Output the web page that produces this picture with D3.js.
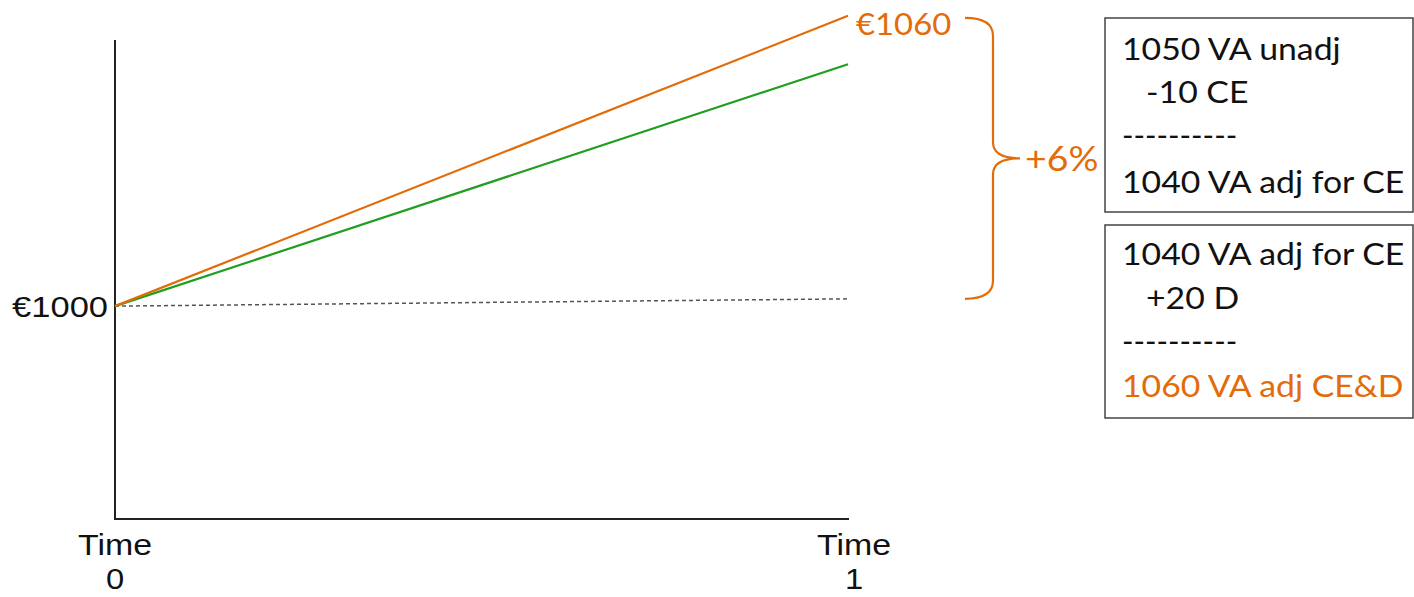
<!DOCTYPE html>
<html>
<head>
<meta charset="utf-8">
<script src="https://cdn.jsdelivr.net/npm/d3@7"></script>
<style>
  html, body { margin: 0; padding: 0; background: #fff; }
  svg { display: block; }
</style>
</head>
<body>
<svg id="chart" width="1414" height="597"></svg>
<script>
// Time points on the horizontal axis
const times = [0, 1];
const timeLabels = ["Time", "Time"];
// Value paths (in euros) from time 0 to time 1
const adjustedValues = [1000, 1060];   // VA adjusted for CE & D
const unadjustedValues = [1000, 1050]; // VA unadjusted
const baselineValues = [1000, 1001.5]; // starting-value reference
// Vertical axis extent (euros)
const yAxisExtent = [956, 1055];
const startLabel = "€1000";
const endLabel = "€1060";
const changeLabel = "+6%";
// Reconciliation boxes
const box1Lines = ["1050 VA unadj", "-10 CE", "----------", "1040 VA adj for CE"];
const box2Lines = ["1040 VA adj for CE", "+20 D", "----------", "1060 VA adj CE&D"];

const ORANGE = "#E36C0A";
const GREEN = "#1F9E1F";
const SANS = "Liberation Sans, Arial, sans-serif";
const HUMANIST = "Lato, sans-serif";

const svg = d3.select("#chart");

const x = d3.scaleLinear().domain([0, 1]).range([115, 848]);
const y = d3.scaleLinear().domain(yAxisExtent).range([519, 40]);

// Text drawn slightly widened horizontally
function wideText(parent, tx, ty, str, opts) {
  const g = parent.append("g")
    .attr("transform", `translate(${tx},${ty}) scale(${opts.sx || 1},1)`);
  return g.append("text")
    .attr("x", 0).attr("y", 0)
    .attr("text-anchor", opts.anchor || "start")
    .attr("font-family", opts.family)
    .attr("font-size", opts.size)
    .attr("fill", opts.fill || "#111")
    .text(str);
}

// Axes (plain L-shaped frame)
svg.append("line")
  .attr("x1", x(0)).attr("x2", x(0))
  .attr("y1", y(yAxisExtent[1])).attr("y2", y(yAxisExtent[0]))
  .attr("stroke", "#222").attr("stroke-width", 2);
svg.append("line")
  .attr("x1", x(0) - 1).attr("x2", x(1) + 1)
  .attr("y1", y(yAxisExtent[0])).attr("y2", y(yAxisExtent[0]))
  .attr("stroke", "#222").attr("stroke-width", 2);

const line = d3.line().x((d, i) => x(times[i])).y(d => y(d));

svg.append("path").datum(baselineValues)
  .attr("d", line).attr("fill", "none")
  .attr("stroke", "#555").attr("stroke-width", 1.5)
  .attr("stroke-dasharray", "4,3");
svg.append("path").datum(unadjustedValues)
  .attr("d", line).attr("fill", "none")
  .attr("stroke", GREEN).attr("stroke-width", 2.2);
svg.append("path").datum(adjustedValues)
  .attr("d", line).attr("fill", "none")
  .attr("stroke", ORANGE).attr("stroke-width", 2.2);

// Time tick labels
times.forEach((t, i) => {
  const cx = x(t) + (t === 1 ? 6 : 0);
  wideText(svg, cx, 555, timeLabels[i], { family: SANS, size: 30, sx: 1.13, anchor: "middle" });
  wideText(svg, cx, 589, String(t), { family: SANS, size: 29, sx: 1.13, anchor: "middle" });
});

// Starting value label
wideText(svg, x(0) - 7, y(adjustedValues[0]) + 11, startLabel,
  { family: SANS, size: 30, sx: 1.15, anchor: "end" });

// Ending value label
wideText(svg, x(1) + 8, y(adjustedValues[1]) + 19, endLabel,
  { family: HUMANIST, size: 31, sx: 1.06, fill: ORANGE });

// Curly brace spanning the change from start to end
const bTop = y(adjustedValues[1]) + 2;
const bBot = y(baselineValues[1]);
const bMid = (bTop + bBot) / 2;
const bx0 = 965, bx1 = 993, bTip = 1020;
const brace = d3.path();
brace.moveTo(bx0, bTop);
brace.quadraticCurveTo(bx1, bTop, bx1, bTop + 18);
brace.lineTo(bx1, bMid - 16);
brace.quadraticCurveTo(bx1, bMid, bTip, bMid);
brace.quadraticCurveTo(bx1, bMid, bx1, bMid + 16);
brace.lineTo(bx1, bBot - 18);
brace.quadraticCurveTo(bx1, bBot, bx0, bBot);
svg.append("path").attr("d", brace.toString())
  .attr("fill", "none").attr("stroke", ORANGE).attr("stroke-width", 2.2);

wideText(svg, 1025, bMid + 13, changeLabel,
  { family: HUMANIST, size: 34, sx: 1.1, fill: ORANGE });

// Reconciliation boxes
function drawBox(top, bottom, lines, baselines, lastColor) {
  svg.append("rect")
    .attr("x", 1105).attr("y", top)
    .attr("width", 1413 - 1105).attr("height", bottom - top)
    .attr("fill", "#fff").attr("stroke", "#444").attr("stroke-width", 1.5);
  lines.forEach((txt, i) => {
    const isLast = i === lines.length - 1;
    const isRule = txt.startsWith("---");
    wideText(svg, i === 1 ? 1146 : 1122, baselines[i], txt, {
      family: HUMANIST, size: 31, sx: isRule ? 1.0 : 1.09,
      fill: isLast && lastColor ? lastColor : "#111"
    });
  });
}
drawBox(18, 212, box1Lines, [60, 103, 146, 193], null);
drawBox(225, 418, box2Lines, [265, 309, 352, 397], ORANGE);
</script>
</body>
</html>
